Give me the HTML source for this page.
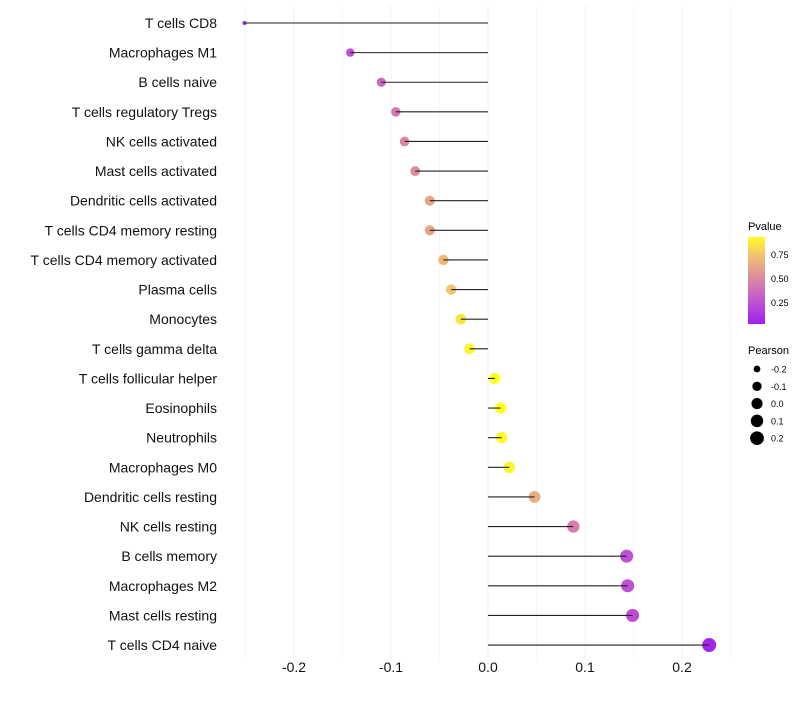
<!DOCTYPE html>
<html><head><meta charset="utf-8"><style>
body{margin:0;background:#fff;font-family:"Liberation Sans",sans-serif}
</style></head><body>
<svg id="chart" width="800" height="700" xmlns="http://www.w3.org/2000/svg" font-family="Liberation Sans, sans-serif">
<defs><linearGradient id="pg" x1="0" y1="1" x2="0" y2="0">
<stop offset="0" stop-color="#a020f0"/><stop offset="0.3" stop-color="#c45ccc"/><stop offset="0.55" stop-color="#de8f9c"/><stop offset="0.8" stop-color="#f2c46e"/><stop offset="1" stop-color="#ffff20"/></linearGradient></defs>
<g id="grid"></g><g id="dots"></g><g id="marks"></g><g id="labels"></g>
<g>
<text x="748" y="230" font-size="11">Pvalue</text>
<rect x="748" y="237" width="17" height="87" fill="url(#pg)"/>
<text x="771" y="258" font-size="9">0.75</text>
<text x="771" y="282" font-size="9">0.50</text>
<text x="771" y="306" font-size="9">0.25</text>
</g>
<g id="sizeLegend">
<text x="748" y="354" font-size="11">Pearson</text>
</g>
</svg>
<script>
const cats=["T cells CD8","Macrophages M1","B cells naive","T cells regulatory  Tregs ","NK cells activated","Mast cells activated","Dendritic cells activated","T cells CD4 memory resting","T cells CD4 memory activated","Plasma cells","Monocytes","T cells gamma delta","T cells follicular helper","Eosinophils","Neutrophils","Macrophages M0","Dendritic cells resting","NK cells resting","B cells memory","Macrophages M2","Mast cells resting","T cells CD4 naive"];
const pearson=[-0.251,-0.142,-0.110,-0.095,-0.086,-0.075,-0.060,-0.060,-0.046,-0.038,-0.028,-0.019,0.007,0.013,0.014,0.022,0.048,0.088,0.143,0.144,0.149,0.228];
const pvalue=[0.05,0.25,0.35,0.42,0.48,0.52,0.62,0.62,0.7,0.75,0.85,0.9,0.95,0.93,0.92,0.9,0.66,0.45,0.25,0.25,0.23,0.05];
const xticks=[-0.2,-0.1,0.0,0.1,0.2];
const gridVals=[-0.25,-0.2,-0.15,-0.1,-0.05,0,0.05,0.1,0.15,0.2,0.25];
const sizeKeys=[-0.2,-0.1,0.0,0.1,0.2];
const NS="http://www.w3.org/2000/svg";
const X=v=>488+v*970;
const Y=i=>23+i*29.62;
const R=v=>Math.sqrt(4+Math.pow((v+0.251)/0.479,0.8)*45);
const stops=[[0,[160,32,240]],[0.3,[196,92,204]],[0.55,[222,143,156]],[0.8,[242,196,110]],[1,[255,255,32]]];
function col(p){let t=Math.max(0,Math.min(1,(p-0.03)/0.9));for(let k=1;k<stops.length;k++){if(t<=stops[k][0]){const a=stops[k-1],b=stops[k],f=(t-a[0])/(b[0]-a[0]);return `rgb(${a[1].map((c,j)=>Math.round(c+(b[1][j]-c)*f)).join(',')})`;}}return 'rgb(255,255,32)';}
function mk(tag,at,parent){const e=document.createElementNS(NS,tag);for(const k in at)e.setAttribute(k,at[k]);parent.appendChild(e);return e;}
const grid=document.getElementById('grid'),marks=document.getElementById('marks'),dots=document.getElementById('dots'),labels=document.getElementById('labels');
gridVals.forEach(v=>{const l=mk('line',{x1:X(v),x2:X(v),y1:5,y2:660,stroke:'#f0f0f0','stroke-width':xticks.some(t=>Math.abs(t-v)<1e-9)?1:0.6},grid);

});
cats.forEach((c,i)=>{const l=mk('line',{x1:X(0),x2:X(pearson[i]),y1:Y(i),y2:Y(i),stroke:'#222','stroke-width':1.1},marks);


const d=mk('circle',{cx:X(pearson[i]),cy:Y(i),r:R(pearson[i]),fill:col(pvalue[i])},dots);


const t=mk('text',{x:217,y:Y(i)+5,'text-anchor':'end','font-size':14,fill:'#111'},labels);t.textContent=c;

});
xticks.forEach(v=>{const t=mk('text',{x:X(v),y:672,'text-anchor':'middle','font-size':14,fill:'#111'},labels);t.textContent=v.toFixed(1);

});
const sl=document.getElementById('sizeLegend');
sizeKeys.forEach((v,i)=>{const y=369+i*17.3;const c=mk('circle',{cx:757,cy:y,r:R(v),fill:'#000'},sl);


const t=mk('text',{x:771,y:y+3.5,'font-size':9},sl);t.textContent=v.toFixed(1);

});
</script>
</body></html>
